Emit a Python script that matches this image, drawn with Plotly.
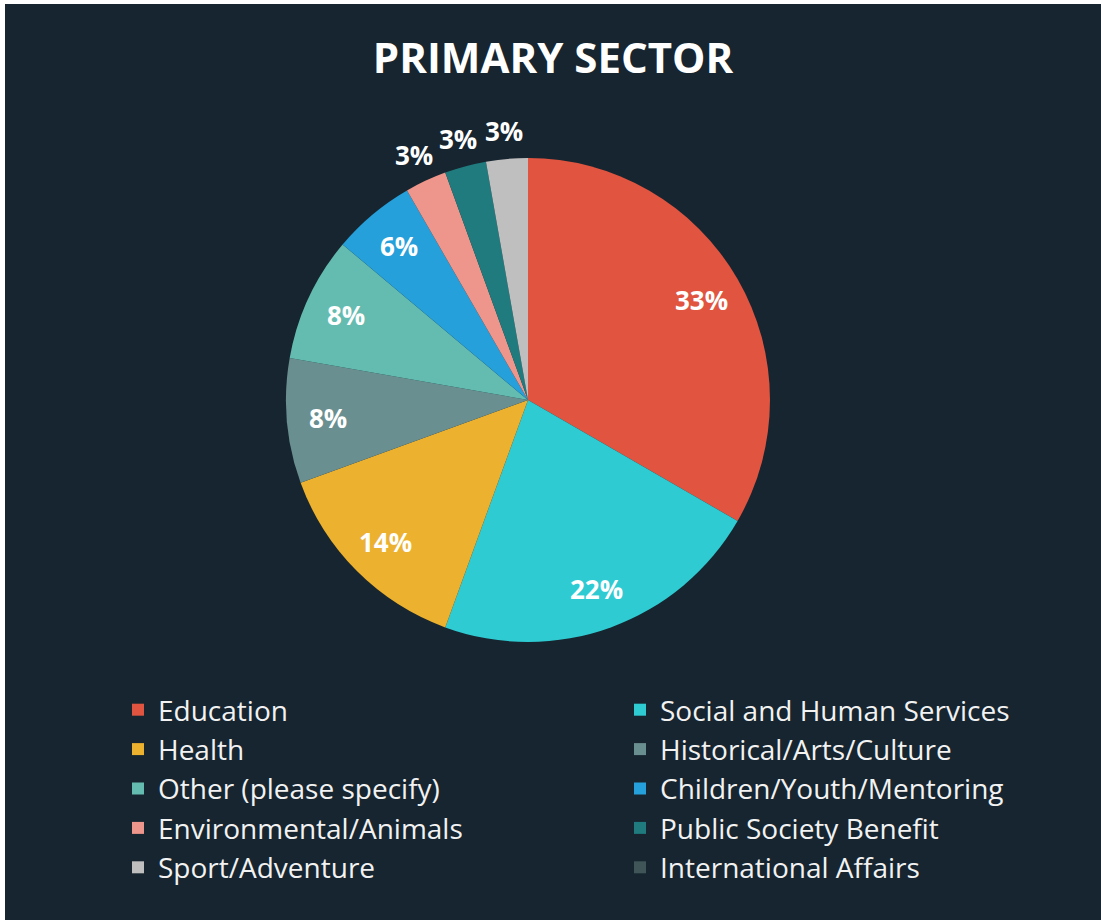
import math
import plotly.graph_objects as go

# Primary sector of respondents (counts)
sectors = [
    "Education",
    "Social and Human Services",
    "Health",
    "Historical/Arts/Culture",
    "Other (please specify)",
    "Children/Youth/Mentoring",
    "Environmental/Animals",
    "Public Society Benefit",
    "Sport/Adventure",
    "International Affairs",
]
counts = [12, 8, 5, 3, 3, 2, 1, 1, 1, 0]
colors = [
    "#e05440", "#2ecbd2", "#ecb12e", "#6a8f91", "#64bcb0",
    "#26a0da", "#ee968b", "#1f7b7e", "#bfbfbf", "#3f5558",
]

BG = "#16252f"
W, H = 1101, 920
CX, CY, R = 528, 400, 242  # pie centre and radius in pixels

total = sum(counts)
shares = [c / total for c in counts]

LABEL_FONT = dict(family="Open Sans", size=26, color="white")

fig = go.Figure(
    go.Pie(
        labels=sectors,
        values=counts,
        sort=False,
        direction="clockwise",
        rotation=0,
        marker=dict(colors=colors, line=dict(width=0)),
        textinfo="none",
        domain=dict(x=[(CX - R) / W, (CX + R) / W],
                    y=[1 - (CY + R) / H, 1 - (CY - R) / H]),
        hoverinfo="label+percent",
    )
)

# percentage labels at each slice's mid-angle: inside the rim for the big
# slices, just beyond the rim for the tiny ones
SMALL = 0.04
annotations = []
cum = 0.0
for s in shares:
    mid = (cum + s / 2) * 2 * math.pi
    cum += s
    if s <= 0:
        continue
    r_lab = R + 28 if s < SMALL else 0.83 * R
    px = CX + r_lab * math.sin(mid)
    py = CY - r_lab * math.cos(mid)
    annotations.append(dict(
        x=px / W, y=1 - py / H, xref="paper", yref="paper",
        text=f"<b>{round(s * 100)}%</b>", showarrow=False,
        xanchor="center", yanchor="middle", font=LABEL_FONT,
    ))

fig.update_layout(
    width=W,
    height=H,
    margin=dict(l=0, r=0, t=0, b=0),
    paper_bgcolor=BG,
    plot_bgcolor=BG,
    title=dict(
        text="<b>PRIMARY SECTOR</b>",
        x=553 / W,
        xanchor="center",
        y=1 - 58 / H,
        yanchor="middle",
        font=dict(family="Open Sans", size=42, color="white"),
    ),
    legend=dict(
        orientation="h",
        x=95 / W,
        xanchor="left",
        y=1 - 685 / H,
        yanchor="top",
        indentation=23,
        entrywidth=434,
        entrywidthmode="pixels",
        font=dict(family="Open Sans", size=28, color="#f2f2f2"),
        bgcolor="rgba(0,0,0,0)",
        traceorder="normal",
    ),
    annotations=annotations,
    shapes=[
        # thin white frame along the top and left edges
        dict(type="rect", xref="paper", yref="paper", x0=0, x1=5 / W, y0=0, y1=1,
             fillcolor="white", line=dict(width=0), layer="above"),
        dict(type="rect", xref="paper", yref="paper", x0=0, x1=1, y0=1 - 4 / H, y1=1,
             fillcolor="white", line=dict(width=0), layer="above"),
    ],
)

fig.write_html("out.html")
